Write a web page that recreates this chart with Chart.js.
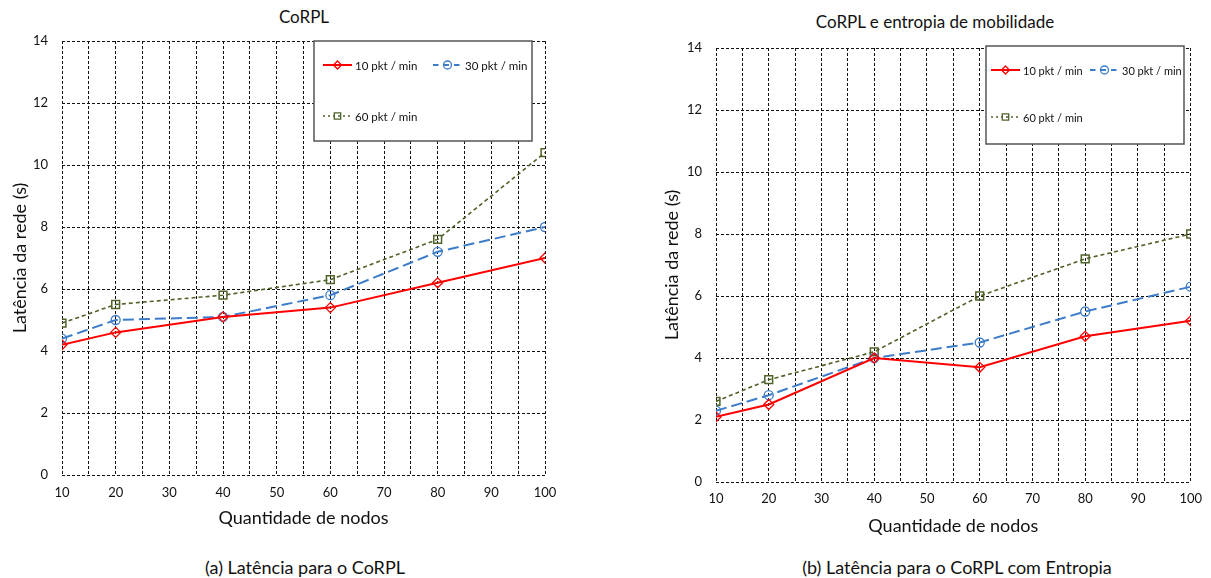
<!DOCTYPE html>
<html>
<head>
<meta charset="utf-8">
<script src="https://cdn.jsdelivr.net/npm/chart.js@4.4.1/dist/chart.umd.min.js"></script>
<style>
  body{margin:0;background:#fff;font-family:Lato,sans-serif;color:#111;}
  #page{position:relative;width:1211px;height:578px;overflow:hidden;}
  canvas{position:absolute;}
  .txt{position:absolute;text-align:center;white-space:nowrap;}
  .ttl{font-size:17px;line-height:18px;}
  .cap{font-size:18px;line-height:20px;}
</style>
</head>
<body>
<div id="page">
  <div class="txt ttl" style="left:204px;width:200px;top:8px;">CoRPL</div>
  <div class="txt ttl" style="left:735px;width:400px;top:13px;">CoRPL e entropia de mobilidade</div>
  <canvas id="chartA" width="600" height="540" style="left:0;top:0;"></canvas>
  <canvas id="chartB" width="557" height="540" style="left:654px;top:0;"></canvas>
  <div class="txt cap" style="left:105px;width:400px;top:557px;">(a) Latência para o CoRPL</div>
  <div class="txt cap" style="left:757px;width:400px;top:557px;">(b) Latência para o CoRPL com Entropia</div>
</div>
<script>
// dados
const nodes=[10,20,40,60,80,100];
const seriesNames=['10 pkt / min','30 pkt / min','60 pkt / min'];
const xTickLabels=[10,20,30,40,50,60,70,80,90,100];
const yTickLabels=[0,2,4,6,8,10,12,14];

// (a) CoRPL
const corpl10=[4.2,4.6,5.1,5.4,6.2,7.0];
const corpl30=[4.4,5.0,5.1,5.8,7.2,8.0];
const corpl60=[4.9,5.5,5.8,6.3,7.6,10.4];

// (b) CoRPL com entropia
const entr10=[2.1,2.5,4.0,3.7,4.7,5.2];
const entr30=[2.3,2.8,4.0,4.5,5.5,6.3];
const entr60=[2.6,3.3,4.2,6.0,7.2,8.0];

Chart.defaults.font.family='Lato';
Chart.defaults.color='#111';

const RED='#ff0000',BLUE='#3d7cc9',GREEN='#4f6228';

function pts(vals){return nodes.map((n,i)=>({x:n,y:vals[i]}));}

function makeDatasets(v10,v30,v60){
  return [
    {label:seriesNames[0],data:pts(v10),borderColor:RED,borderWidth:2,borderDash:[],
     pointStyle:'rectRot',pointRadius:5,pointBorderWidth:1.3,pointBackgroundColor:'rgba(0,0,0,0)',pointBorderColor:RED},
    {label:seriesNames[1],data:pts(v30),borderColor:BLUE,borderWidth:2,borderDash:[11,5],
     pointStyle:'circle',pointRadius:4.5,pointBorderWidth:1.3,pointBackgroundColor:'rgba(0,0,0,0)',pointBorderColor:BLUE},
    {label:seriesNames[2],data:pts(v60),borderColor:GREEN,borderWidth:1.6,borderDash:[4,3],
     pointStyle:'rect',pointRadius:5.5,pointBorderWidth:1.5,pointBackgroundColor:'rgba(0,0,0,0)',pointBorderColor:GREEN}
  ];
}

// desenho do marcador na legenda
function marker(ctx,style,x,y,r){
  ctx.beginPath();
  if(style==='circle'){ctx.arc(x,y,r,0,Math.PI*2);}
  else if(style==='rectRot'){ctx.moveTo(x,y-r);ctx.lineTo(x+r,y);ctx.lineTo(x,y+r);ctx.lineTo(x-r,y);ctx.closePath();}
  else{const s=r*0.8;ctx.rect(x-s,y-s,2*s,2*s);}
  ctx.stroke();
}

// legenda em caixa dentro da área do gráfico
const boxLegend={
  id:'boxLegend',
  afterDraw(chart,args,o){
    const ctx=chart.ctx,ca=chart.chartArea;
    const x0=ca.left+o.dx,y0=ca.top+o.dy;
    ctx.save();
    ctx.fillStyle='#fff';
    ctx.fillRect(x0,y0,o.w,o.h);
    ctx.setLineDash([]);
    ctx.strokeStyle='#555';
    ctx.lineWidth=1.5;
    ctx.strokeRect(x0,y0,o.w,o.h);
    chart.data.datasets.forEach((ds,i)=>{
      const lx=x0+o.slots[i][0],ly=y0+o.slots[i][1];
      ctx.strokeStyle=ds.borderColor;
      ctx.lineWidth=ds.borderWidth;
      ctx.setLineDash(ds.borderDash.length?[ds.borderDash[0]*0.5,ds.borderDash[1]]:[]);
      ctx.beginPath();ctx.moveTo(lx,ly);ctx.lineTo(lx+29,ly);ctx.stroke();
      ctx.setLineDash([]);
      ctx.lineWidth=1.3;
      marker(ctx,ds.pointStyle,lx+14.5,ly,4);
      ctx.fillStyle='#111';
      ctx.font=o.fontSize+'px Lato';
      ctx.textBaseline='middle';
      ctx.fillText(ds.label,lx+32,ly+1);
    });
    ctx.restore();
  }
};

function makeChart(id,datasets,cfg){
  return new Chart(document.getElementById(id),{
    type:'line',
    data:{datasets},
    plugins:[boxLegend],
    options:{
      responsive:false,
      animation:false,
      layout:{padding:cfg.padding},
      plugins:{legend:{display:false},tooltip:{enabled:false},boxLegend:cfg.legend},
      scales:{
        x:{
          type:'linear',min:10,max:100,
          grid:{color:'#111',lineWidth:1,drawTicks:false},
          border:{display:false,dash:[3,2]},
          ticks:{stepSize:5,autoSkip:false,maxRotation:0,padding:cfg.xTickPad,font:{size:13},color:'#111',
            callback:v=>xTickLabels.includes(v)?String(v):''},
          title:{display:true,text:'Quantidade de nodos',font:{size:18},color:'#111',padding:{top:0,bottom:0}},
          afterFit:s=>{s.height=cfg.xHeight;}
        },
        y:{
          min:0,max:14,
          grid:{color:'#111',lineWidth:1,drawTicks:false},
          border:{display:false,dash:[3,2]},
          ticks:{stepSize:2,padding:14,font:{size:13},color:'#111',
            callback:v=>yTickLabels.includes(v)?String(v):''},
          title:{display:true,text:'Latência da rede (s)',font:{size:18},color:'#111',padding:{top:cfg.yTitlePad,bottom:0}},
          afterFit:s=>{s.width=62;}
        }
      }
    }
  });
}

makeChart('chartA',makeDatasets(corpl10,corpl30,corpl60),{
  padding:{left:0,right:55,top:41,bottom:11.2},
  xTickPad:10,xHeight:53.8,yTitlePad:9.2,
  legend:{dx:252,dy:0,w:218,h:100,fontSize:11.5,slots:[[9,24],[119,24],[9,75]]}
});

makeChart('chartB',makeDatasets(entr10,entr30,entr60),{
  padding:{left:0,right:18,top:48,bottom:3.2},
  xTickPad:9,xHeight:54.8,yTitlePad:7.2,
  legend:{dx:270,dy:-2,w:198,h:98,fontSize:11,slots:[[5,24],[104,24],[5,71]]}
});
</script>
</body>
</html>
